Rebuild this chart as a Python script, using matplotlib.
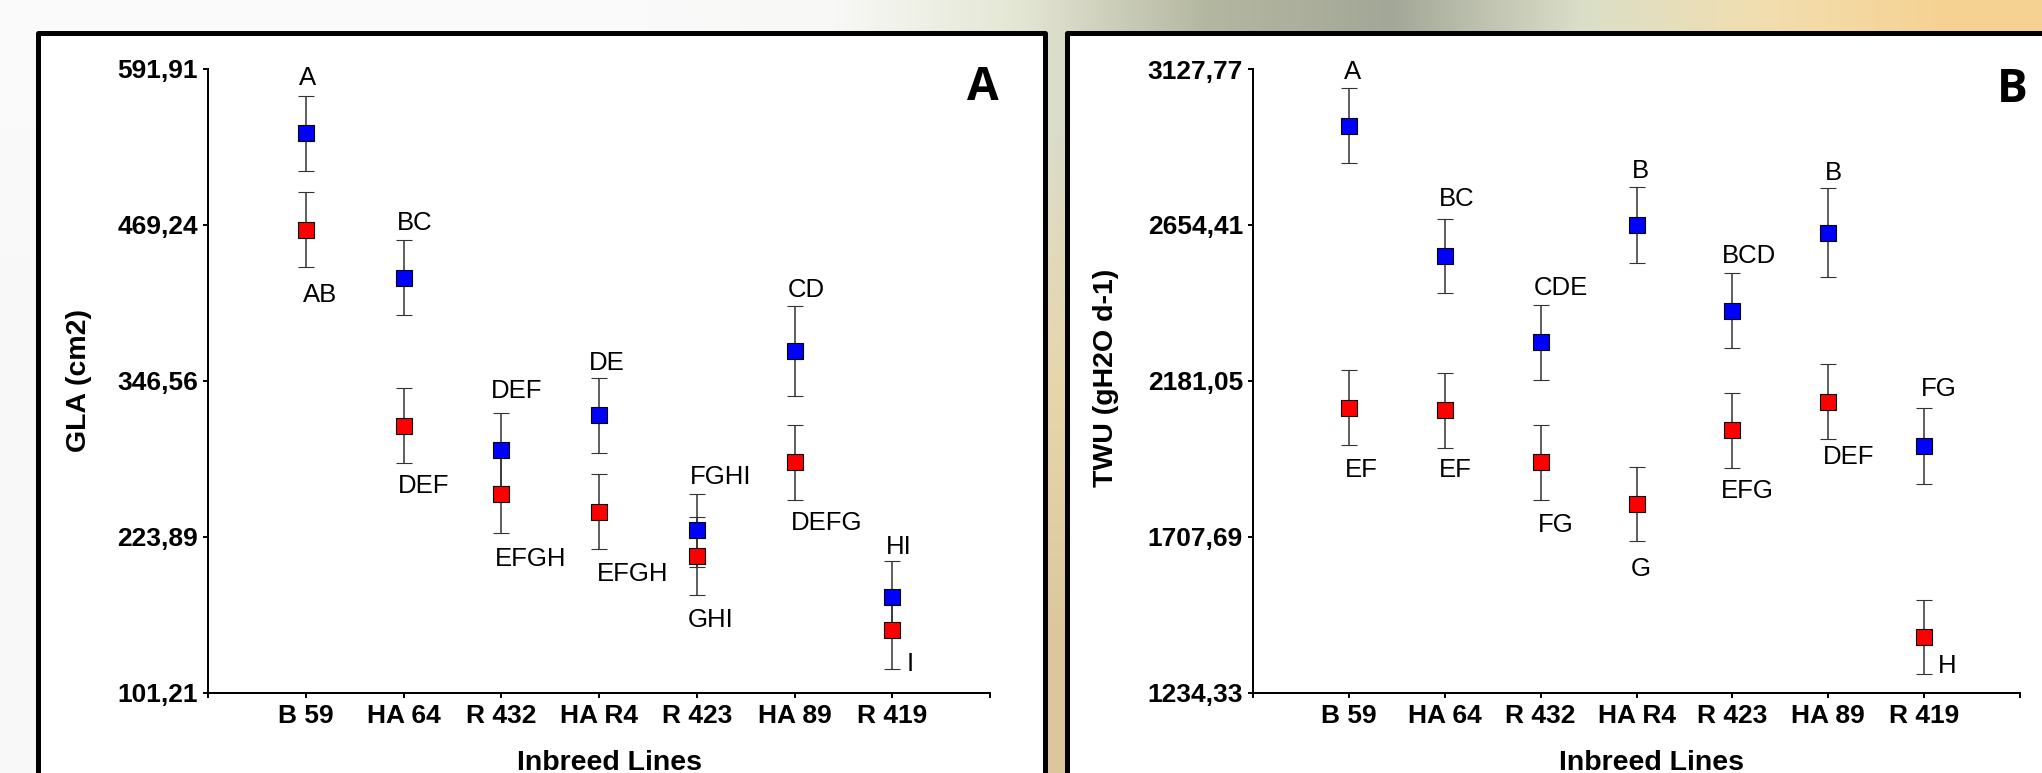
import matplotlib

matplotlib.use("Agg")

import matplotlib.pyplot as plt
import numpy as np
from matplotlib.colors import to_rgb
from matplotlib.patches import Rectangle

# inbred lines on the x axis
lines = ["B 59", "HA 64", "R 432", "HA R4", "R 423", "HA 89", "R 419"]

# panel A: green leaf area
gla_ticks = [101.21, 223.89, 346.56, 469.24, 591.91]
gla_tick_labels = ["101,21", "223,89", "346,56", "469,24", "591,91"]
gla_blue = [541.5, 427.8, 292.4, 319.6, 228.8, 370.0, 176.4]
gla_blue_err = [29.5, 29.5, 29.0, 29.5, 29.0, 35.7, 28.5]
gla_red = [465.4, 311.1, 257.5, 243.6, 208.6, 282.3, 150.5]
gla_red_err = [29.6, 29.5, 30.5, 29.5, 30.5, 29.5, 30.5]
gla_blue_letters = ["A", "BC", "DEF", "DE", "FGHI", "CD", "HI"]
gla_red_letters = ["AB", "DEF", "EFGH", "EFGH", "GHI", "DEFG", "I"]

# panel B: total water use
twu_ticks = [1234.33, 1707.69, 2181.05, 2654.41, 3127.77]
twu_tick_labels = ["1234,33", "1707,69", "2181,05", "2654,41", "3127,77"]
twu_blue = [2955.6, 2560.5, 2298.6, 2653.3, 2394.4, 2630.9, 1982.7]
twu_blue_err = [113.7, 112.5, 113.7, 115.0, 113.7, 136.0, 114.5]
twu_red = [2099.5, 2092.0, 1933.4, 1807.6, 2030.6, 2117.5, 1403.5]
twu_red_err = [113.7, 113.7, 114.5, 112.5, 113.7, 114.5, 113.5]
twu_blue_letters = ["A", "BC", "CDE", "B", "BCD", "B", "FG"]
twu_red_letters = ["EF", "EF", "FG", "G", "EFG", "DEF", "H"]

W, H = 2042, 773
plt.rcParams["font.family"] = ["Liberation Sans", "DejaVu Sans"]

fig = plt.figure(figsize=(W / 100, H / 100), dpi=100)


def fx(px):
    return px / W


def fy(py):
    # py measured from the top edge, in pixels
    return 1 - py / H


# blurred photo behind the panels, rough colour gradient
bg_top = ["#fafafa", "#fafafa", "#fafafa", "#fafafa", "#f8f8f6", "#e4e6d4",
          "#b4b7a0", "#a3a797", "#dadec8", "#f2deb0", "#f6d292"]
bg_mid = ["#f8f8f8", "#f8f8f8", "#f8f8f8", "#f8f8f8", "#f2eee2", "#e8d6ab",
          "#e8d6ab", "#e8d6ab", "#e8d6ab", "#efd7a4", "#f3d49a"]
bg_bot = ["#f8f8f8", "#f8f8f8", "#f8f8f8", "#f8f8f8", "#eee6d4", "#dcc79d",
          "#dcc79d", "#dcc79d", "#dcc79d", "#e6cf9f", "#eccf9c"]
bg = fig.add_axes([0, 0, 1, 1], zorder=-10)
img = np.array([[to_rgb(c) for c in row] for row in (bg_top, bg_mid, bg_bot)])
bg.imshow(img, extent=(0, 1, 0, 1), aspect="auto", interpolation="bilinear")
bg.axis("off")


def frame(x0, y0, x1, y1):
    r = Rectangle((fx(x0), fy(y1)), fx(x1) - fx(x0), fy(y0) - fy(y1),
                  transform=fig.transFigure, facecolor="white",
                  edgecolor="black", linewidth=3.6, joinstyle="round",
                  zorder=-5)
    fig.add_artist(r)


frame(37.5, 32.5, 1044.5, 820)
frame(1066.5, 32.5, 2090, 820)

# label offsets: (dx in category units, dy in pixels from the error bar end)
gla_blue_off = [(0.022, 18), (0.116, 17), (0.159, 22), (0.080, 15),
                (0.245, 17), (0.116, 16), (0.066, 14)]
gla_red_off = [(0.145, -28), (0.202, -23), (0.303, -26), (0.346, -25),
               (0.145, -25), (0.332, -23), (0.181, 5)]
twu_blue_off = [(0.039, 16), (0.127, 20), (0.215, 17), (0.040, 16),
                (0.174, 17), (0.050, 15), (0.152, 19)]
twu_red_off = [(0.132, -25), (0.114, -22), (0.162, -25), (0.040, -28),
               (0.160, -23), (0.208, -18), (0.237, 8)]


def draw(left_px, right_px, ticks, tick_labels, blue, blue_err, red, red_err,
         blue_letters, blue_off, red_letters, red_off):
    ax = fig.add_axes([fx(left_px), fy(692.6), fx(right_px) - fx(left_px),
                       fy(69) - fy(692.6)], zorder=1)
    ax.patch.set_alpha(0)
    x = np.arange(1, len(lines) + 1)
    style = dict(fmt="s", ecolor="#333333", elinewidth=1.1, capsize=6,
                 capthick=1.1, markersize=11.5, markeredgecolor="black",
                 markeredgewidth=0.8)
    ax.errorbar(x, red, yerr=red_err, color="#ff0000", **style)
    ax.errorbar(x, blue, yerr=blue_err, color="#0000ff", **style)

    for i, s in enumerate(blue_letters):
        dx, dy = blue_off[i]
        ax.annotate(s, (x[i] + dx, blue[i] + blue_err[i]), xytext=(0, dy),
                    textcoords="offset pixels", ha="center", va="center",
                    fontsize=18.5)
    for i, s in enumerate(red_letters):
        dx, dy = red_off[i]
        ax.annotate(s, (x[i] + dx, red[i] - red_err[i]), xytext=(0, dy),
                    textcoords="offset pixels", ha="center", va="center",
                    fontsize=18.5)

    ax.set_xlim(0, len(lines) + 1)
    ax.set_ylim(ticks[0], ticks[-1])
    ax.set_xticks(range(0, len(lines) + 2))
    ax.set_xticklabels([""] + lines + [""], fontweight="bold")
    ax.set_yticks(ticks)
    ax.set_yticklabels(tick_labels, fontweight="bold")
    ax.tick_params(direction="out", length=3.6, width=1.4, labelsize=19)
    ax.tick_params(axis="x", pad=4.5)
    ax.tick_params(axis="y", pad=3.6)
    for side in ("top", "right"):
        ax.spines[side].set_visible(False)
    for side in ("left", "bottom"):
        ax.spines[side].set_linewidth(1.44)
    return ax


draw(208, 990, gla_ticks, gla_tick_labels, gla_blue, gla_blue_err, gla_red,
     gla_red_err, gla_blue_letters, gla_blue_off, gla_red_letters, gla_red_off)
draw(1253, 2020, twu_ticks, twu_tick_labels, twu_blue, twu_blue_err, twu_red,
     twu_red_err, twu_blue_letters, twu_blue_off, twu_red_letters, twu_red_off)

fig.text(fx(79), fy(380), "GLA (cm2)", rotation=90, ha="center", va="center",
         fontsize=20.5, fontweight="bold")
fig.text(fx(1106), fy(378), "TWU (gH2O d-1)", rotation=90, ha="center",
         va="center", fontsize=20.5, fontweight="bold")
fig.text(fx(609), fy(769.5), "Inbreed Lines", ha="center", va="baseline",
         fontsize=20.5, fontweight="bold")
fig.text(fx(1651), fy(769.5), "Inbreed Lines", ha="center", va="baseline",
         fontsize=20.5, fontweight="bold")
fig.text(fx(982.5), fy(88), "A", ha="center", va="center", fontsize=33,
         fontweight="bold", family=["Open Sans", "DejaVu Sans"])
fig.text(fx(2012), fy(89), "B", ha="center", va="center", fontsize=33,
         fontweight="bold", family=["Open Sans", "DejaVu Sans"])

fig.savefig("out.png", dpi=100)
plt.close(fig)
